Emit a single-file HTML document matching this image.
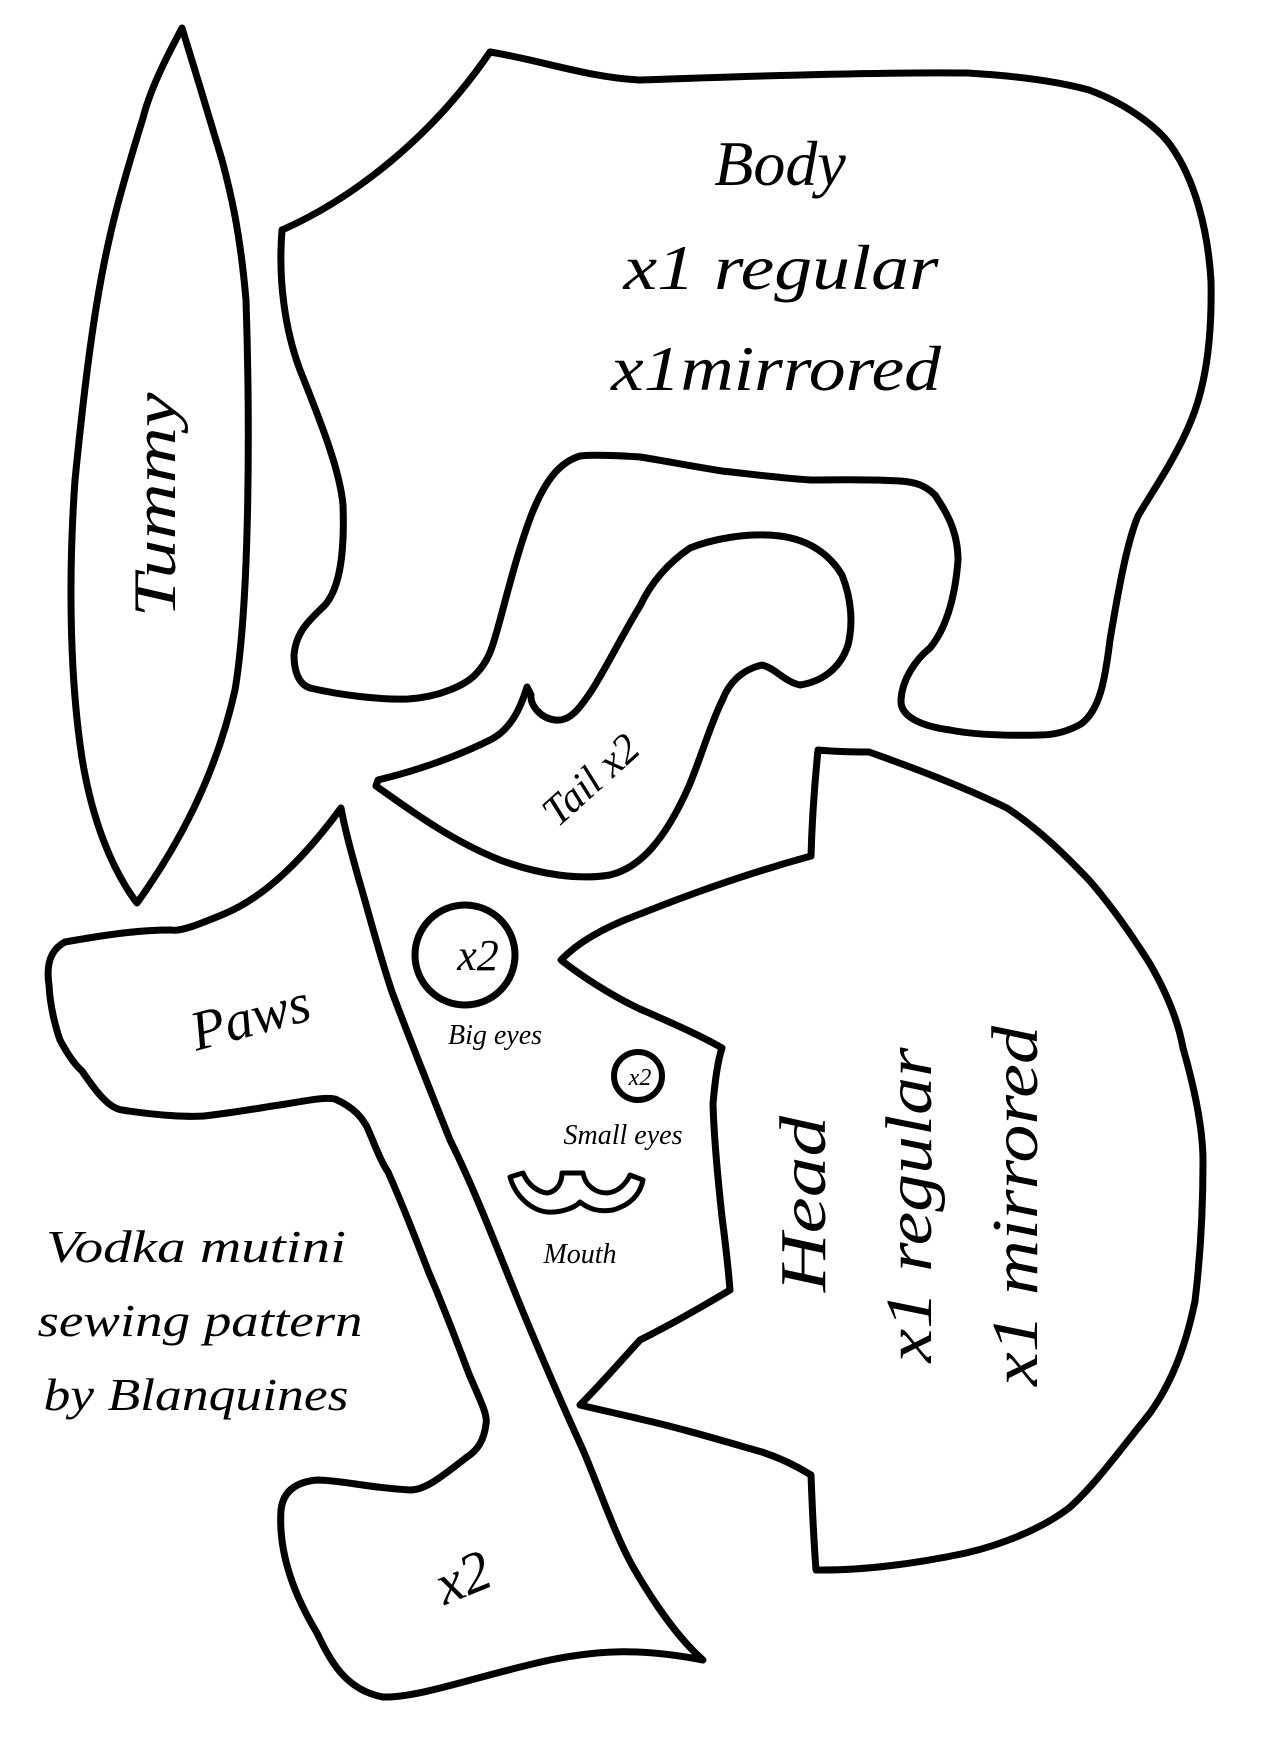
<!DOCTYPE html>
<html><head><meta charset="utf-8"><style>
html,body{margin:0;padding:0;background:#fff;}
svg{display:block;}
text{font-family:"Liberation Serif",serif;font-style:italic;fill:#000;}
</style></head><body>
<svg width="1280" height="1760" viewBox="0 0 1280 1760" xmlns="http://www.w3.org/2000/svg">
<rect width="1280" height="1760" fill="#fff"/>
<g fill="none" stroke="#000" stroke-width="7" stroke-linejoin="round" stroke-linecap="round">
<path d="M182,28 C165,60 150,90 143,118 C130,160 118,200 110,236 C95,300 85,380 75,480 C68,580 70,680 82,758 C92,820 112,870 137,903 C175,850 215,780 235,690 C250,600 250,420 246,300 C240,230 230,190 222,160 C210,120 195,70 182,28 Z"/>
<path d="M282,230 C350,200 430,140 490,52 C540,60 590,78 640,80 C750,76 880,72 967,73 C1020,76 1060,82 1089,90 C1130,105 1160,130 1171,146 C1195,180 1208,230 1211,281 C1212,330 1208,380 1191,421 C1175,460 1150,495 1138,516 C1128,540 1120,580 1110,640 C1105,680 1100,710 1081,724 C1065,733 1050,735 1040,735 C1000,736 970,734 950,730 C920,726 900,716 901,700 C902,680 915,660 930,648 C945,630 955,600 958,560 C958,530 945,510 935,495 C925,485 915,482 900,481 C860,479 840,480 811,480 C780,478 750,474 722,471 C690,466 660,460 640,457 C610,455 590,455 580,456 C560,462 545,480 531,516 C520,545 512,575 500,620 C493,645 490,660 475,675 C465,685 440,697 408,699 C380,700 340,695 310,688 C298,684 294,670 294,655 C296,630 312,618 325,605 C338,590 345,560 343,505 C340,470 320,420 300,370 C285,330 278,280 282,230 Z"/>
<path d="M527,687 C520,710 510,730 490,740 C460,755 420,770 378,780 L376,786 C410,810 450,840 500,860 C540,875 580,880 610,875 C640,868 665,840 689,786 C700,760 712,720 722,701 C728,685 740,670 762,665 C775,668 785,682 800,685 C820,682 840,670 848,645 C853,625 852,600 842,575 C830,555 810,540 780,536 C745,532 710,540 690,548 C665,565 650,585 640,606 C625,630 605,670 592,690 C580,708 570,722 555,720 C540,718 530,705 531,695 Z"/>
<path d="M341,808 C310,850 270,895 224,914 C200,924 180,932 171,930 C140,930 110,934 65,942 C50,950 46,965 49,985 C50,1005 55,1026 60,1040 C68,1055 75,1065 82,1071 C95,1090 108,1108 122,1110 C160,1116 190,1117 204,1116 C240,1112 270,1106 286,1104 C310,1100 325,1097 335,1099 C355,1108 362,1118 367,1127 C375,1145 380,1160 388,1172 C405,1210 418,1245 429,1273 C445,1310 458,1345 469,1374 C480,1400 488,1415 486,1424 C484,1440 478,1450 467,1457 C440,1478 425,1490 410,1490 C370,1488 340,1480 317,1480 C295,1482 283,1492 281,1510 C279,1540 285,1580 317,1633 C330,1660 345,1690 383,1697 C420,1698 480,1675 550,1660 C600,1650 640,1648 703,1660 C680,1640 655,1605 633,1567 C615,1535 600,1490 583,1450 C560,1400 530,1330 510,1280 C490,1230 470,1180 450,1140 C430,1090 410,1040 392,992 C378,950 368,910 359,880 C352,855 345,830 341,808 Z"/>
<path d="M818,750 C840,752 855,752 869,752 C920,770 970,790 1007,808 C1040,830 1065,855 1089,880 C1115,910 1135,940 1150,964 C1165,990 1178,1020 1183,1048 C1195,1090 1203,1130 1203,1161 C1203,1210 1200,1260 1195,1301 C1185,1350 1170,1385 1150,1413 C1120,1450 1095,1485 1069,1508 C1040,1530 1000,1545 966,1553 C910,1565 860,1570 824,1570 L816,1570 C813,1530 812,1500 811,1475 C795,1465 780,1458 762,1452 C720,1440 680,1428 640,1419 C620,1414 600,1410 580,1405 C600,1385 620,1362 640,1340 C670,1325 705,1305 730,1290 C728,1265 725,1240 722,1217 C718,1180 714,1140 713,1104 C715,1080 718,1060 722,1048 C700,1035 665,1020 640,1009 C610,995 580,975 561,960 C580,940 610,925 640,914 C700,890 760,870 811,856 C812,820 815,780 818,750 Z"/>
<circle cx="465" cy="955" r="50"/>
<circle cx="638" cy="1076" r="24" stroke-width="6"/>
<path stroke-width="5" d="M510,1177 L523,1173 C528,1185 538,1192 547,1193 C555,1192 562,1185 562,1173 L583,1173 C585,1185 595,1193 607,1193 C618,1192 626,1184 630,1175 L643,1180 C640,1195 630,1205 613,1210 C600,1212 590,1210 580,1202 C575,1208 560,1213 547,1212 C530,1210 515,1195 510,1177 Z"/>
</g>
<text x="780" y="185" font-size="64" text-anchor="middle">Body</text>
<text x="781" y="289" font-size="64" text-anchor="middle" textLength="315" lengthAdjust="spacingAndGlyphs">x1 regular</text>
<text x="776" y="390" font-size="64" text-anchor="middle" textLength="330" lengthAdjust="spacingAndGlyphs">x1mirrored</text>
<text transform="translate(175,505) rotate(-90)" font-size="60" text-anchor="middle" textLength="225" lengthAdjust="spacingAndGlyphs">Tummy</text>
<text transform="translate(600,790) rotate(-42)" font-size="42" text-anchor="middle">Tail x2</text>
<text transform="translate(255,1035) rotate(-15)" font-size="56" text-anchor="middle">Paws</text>
<text transform="translate(470,1595) rotate(-22)" font-size="58" text-anchor="middle">x2</text>
<text x="478" y="970" font-size="44" text-anchor="middle">x2</text>
<text x="495" y="1044" font-size="28" text-anchor="middle">Big eyes</text>
<text x="640" y="1085" font-size="24" text-anchor="middle">x2</text>
<text x="623" y="1144" font-size="28" text-anchor="middle">Small eyes</text>
<text x="580" y="1263" font-size="28" text-anchor="middle">Mouth</text>
<text x="196" y="1262" font-size="46" text-anchor="middle" textLength="300" lengthAdjust="spacingAndGlyphs">Vodka mutini</text>
<text x="200" y="1336" font-size="46" text-anchor="middle" textLength="325" lengthAdjust="spacingAndGlyphs">sewing pattern</text>
<text x="196" y="1410" font-size="46" text-anchor="middle" textLength="305" lengthAdjust="spacingAndGlyphs">by Blanquines</text>
<text transform="translate(825,1204) rotate(-90)" font-size="66" text-anchor="middle" textLength="176" lengthAdjust="spacingAndGlyphs">Head</text>
<text transform="translate(931,1205) rotate(-90)" font-size="66" text-anchor="middle" textLength="315" lengthAdjust="spacingAndGlyphs">x1 regular</text>
<text transform="translate(1037,1206) rotate(-90)" font-size="66" text-anchor="middle" textLength="360" lengthAdjust="spacingAndGlyphs">x1 mirrored</text>
</svg>
</body></html>
